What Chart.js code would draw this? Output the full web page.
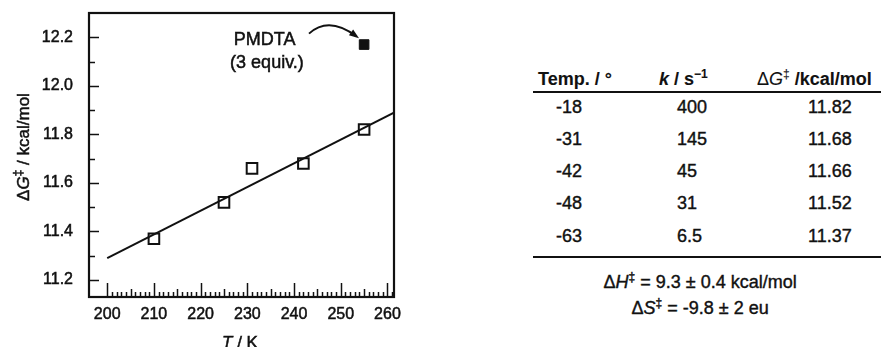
<!DOCTYPE html>
<html>
<head>
<meta charset="utf-8">
<script src="https://cdn.jsdelivr.net/npm/chart.js@4.4.1/dist/chart.umd.min.js"></script>
<style>
  html, body { margin:0; padding:0; background:#fff; }
  body { width:881px; height:347px; position:relative; overflow:hidden; font-family:'Liberation Sans', Arial, sans-serif; color:#111; }
  #plot { position:absolute; left:0; top:0; width:420px; height:347px; }
  .t { position:absolute; font-size:18px; white-space:nowrap; line-height:1; -webkit-text-stroke:0.4px #111; }
  .b { font-weight:bold; font-size:18px; -webkit-text-stroke:0.1px #111; }
  .rule { position:absolute; left:533px; width:360px; height:0; border-top:2px solid #111; }
  sup { font-size:12px; vertical-align:7px; line-height:0; }
</style>
</head>
<body>
<div id="plot"><canvas id="c" width="420" height="347"></canvas></div>
<div id="table"></div>
<script>
Chart.defaults.font.family = "'Liberation Sans', Arial, sans-serif";
Chart.defaults.color = '#111';

// temperatures (K) and activation free energies (kcal/mol)
const tempK = [210, 225, 231, 242, 255];
const dG = [11.37, 11.52, 11.66, 11.68, 11.82];
// PMDTA (3 equiv.) point
const pmdtaT = [255];
const pmdtaG = [12.17];
// least-squares line end points
const fitT = [200, 262];
const fitG = [11.29, 11.895];

const xTicks = [200, 210, 220, 230, 240, 250, 260];
const yTicks = [11.2, 11.4, 11.6, 11.8, 12.0, 12.2];

// table
const tempC = ['-18', '-31', '-42', '-48', '-63'];
const kRate = ['400', '145', '45', '31', '6.5'];
const dGtab = ['11.82', '11.68', '11.66', '11.52', '11.37'];

const FONT = "'Liberation Sans', Arial, sans-serif";

const frame = {
  id:'frame',
  afterDatasetsDraw(chart) {
    const {ctx, chartArea:a, scales:{x, y}} = chart;
    ctx.save();
    ctx.strokeStyle = '#111';
    ctx.fillStyle = '#111';
    ctx.lineWidth = 1.5;
    // x ticks (inward)
    for (let t = 200; t <= 261; t++) {
      const px = Math.round(x.getPixelForValue(t)) + 0.5;
      const len = t % 10 === 0 ? 14 : (t % 5 === 0 ? 8 : 5);
      ctx.beginPath(); ctx.moveTo(px, a.bottom); ctx.lineTo(px, a.bottom - len); ctx.stroke();
    }
    // y ticks (inward)
    for (let i = 0; i <= 10; i++) {
      const v = 11.2 + i * 0.1;
      const py = Math.round(y.getPixelForValue(v)) + 0.5;
      const len = i % 2 === 0 ? 10 : 6;
      ctx.beginPath(); ctx.moveTo(a.left, py); ctx.lineTo(a.left + len, py); ctx.stroke();
    }
    // box
    ctx.lineWidth = 2.2;
    ctx.strokeRect(a.left, a.top, a.right - a.left, a.bottom - a.top);

    const txt = (s, px, py) => { ctx.fillText(s, px, py); ctx.lineWidth = 0.5; ctx.strokeText(s, px, py); };

    // tick labels
    ctx.font = '16px ' + FONT;
    ctx.textAlign = 'right'; ctx.textBaseline = 'middle';
    yTicks.forEach(v => txt(v.toFixed(1), a.left - 16, y.getPixelForValue(v)));
    ctx.textAlign = 'center'; ctx.textBaseline = 'top';
    xTicks.forEach(v => txt(String(v), x.getPixelForValue(v), a.bottom + 10));

    // annotation
    ctx.font = '18px ' + FONT;
    ctx.textAlign = 'center';
    ctx.textBaseline = 'middle';
    txt('PMDTA', x.getPixelForValue(233.7), y.getPixelForValue(12.19));
    txt('(3 equiv.)', x.getPixelForValue(234.2), y.getPixelForValue(12.095));
    const x0 = x.getPixelForValue(243.2), y0 = y.getPixelForValue(12.215);
    const x1 = x.getPixelForValue(253.4), y1 = y.getPixelForValue(12.203);
    const cx = (x0 + x1) / 2 - 4, cy = y0 - 18;
    ctx.lineWidth = 2;
    ctx.beginPath(); ctx.moveTo(x0, y0); ctx.quadraticCurveTo(cx, cy, x1, y1); ctx.stroke();
    const ang = Math.atan2(y1 - cy, x1 - cx);
    ctx.beginPath();
    ctx.moveTo(x1 + 3 * Math.cos(ang), y1 + 3 * Math.sin(ang));
    ctx.lineTo(x1 - 7 * Math.cos(ang) - 3.5 * Math.sin(ang), y1 - 7 * Math.sin(ang) + 3.5 * Math.cos(ang));
    ctx.lineTo(x1 - 7 * Math.cos(ang) + 3.5 * Math.sin(ang), y1 - 7 * Math.sin(ang) - 3.5 * Math.cos(ang));
    ctx.closePath(); ctx.fill();

    // axis titles
    ctx.textBaseline = 'alphabetic';
    ctx.textAlign = 'left';
    const parts = (list) => list.reduce((w, p) => { ctx.font = p[1]; return w + ctx.measureText(p[0]).width; }, 0);
    const draw = (list, sx, sy) => {
      let cur = sx;
      list.forEach(p => { ctx.font = p[1]; txt(p[0], cur, sy + (p[2] || 0)); cur += ctx.measureText(p[0]).width; });
    };
    const N = '17px ' + FONT;
    const I = 'italic 17px ' + FONT;
    const S = '12px ' + FONT;
    const xt = [['T', I], [' / K', N]];
    draw(xt, 240 - parts(xt) / 2, 348);
    const yt = [['\u0394', N], ['G', I], ['\u2021', S, -7], [' / kcal/mol', N]];
    ctx.translate(29, 147);
    ctx.rotate(-Math.PI / 2);
    draw(yt, -parts(yt) / 2, 0);
    ctx.restore();
  }
};

new Chart(document.getElementById('c'), {
  type:'scatter',
  data:{
    datasets:[
      {
        type:'line',
        data: fitT.map((t, i) => ({x:t, y:fitG[i]})),
        borderColor:'#111', borderWidth:2, pointRadius:0, fill:false
      },
      {
        data: tempK.map((t, i) => ({x:t, y:dG[i]})),
        pointStyle:'rect', pointRadius:7.5, borderWidth:2,
        borderColor:'#111', backgroundColor:'#fff'
      },
      {
        data: pmdtaT.map((t, i) => ({x:t, y:pmdtaG[i]})),
        pointStyle:'rect', pointRadius:6.8, borderWidth:1,
        borderColor:'#111', backgroundColor:'#111'
      }
    ]
  },
  options:{
    responsive:false, animation:false,
    layout:{padding:{left:0, top:13, right:26, bottom:0}},
    plugins:{legend:{display:false}, tooltip:{enabled:false}},
    scales:{
      x:{
        type:'linear', min:196.1, max:261.4,
        grid:{display:false, drawTicks:false}, border:{display:false},
        ticks:{display:false},
        afterBuildTicks:s => { s.ticks = xTicks.map(v => ({value:v})); },
        afterFit:s => { s.height = 50; }
      },
      y:{
        min:11.13, max:12.3,
        grid:{display:false, drawTicks:false}, border:{display:false},
        ticks:{display:false},
        afterBuildTicks:s => { s.ticks = yTicks.map(v => ({value:v})); },
        afterFit:s => { s.width = 89; }
      }
    }
  },
  plugins:[frame]
});

// table on the right
const tb = document.getElementById('table');
const add = (html, left, top, cls) => {
  const d = document.createElement('div');
  d.className = 't ' + (cls || '');
  d.style.left = left + 'px';
  d.style.top = top + 'px';
  d.innerHTML = html;
  tb.appendChild(d);
  return d;
};
add('Temp. / \u00b0', 538, 70, 'b');
add('<i>k</i> / s<sup>\u22121</sup>', 659, 70, 'b');
add('<span style="font-weight:normal">\u0394<i>G</i><sup>\u2021</sup></span> /kcal/mol', 757, 70, 'b');
const rule1 = document.createElement('div'); rule1.className = 'rule'; rule1.style.top = '91px'; tb.appendChild(rule1);
const rowY = [98, 130, 162, 194, 227];
tempC.forEach((v, i) => {
  add(v, 556, rowY[i]);
  add(kRate[i], 677, rowY[i]);
  add(dGtab[i], 808, rowY[i]);
});
const rule2 = document.createElement('div'); rule2.className = 'rule'; rule2.style.top = '256px'; tb.appendChild(rule2);
const h = add('\u0394<i>H</i><sup>\u2021</sup> = 9.3 \u00b1 0.4 kcal/mol', 0, 273);
h.style.left = (700 - h.offsetWidth / 2) + 'px';
const s = add('\u0394<i>S</i><sup>\u2021</sup> = -9.8 \u00b1 2 eu', 0, 299);
s.style.left = (700 - s.offsetWidth / 2) + 'px';
</script>
</body>
</html>
